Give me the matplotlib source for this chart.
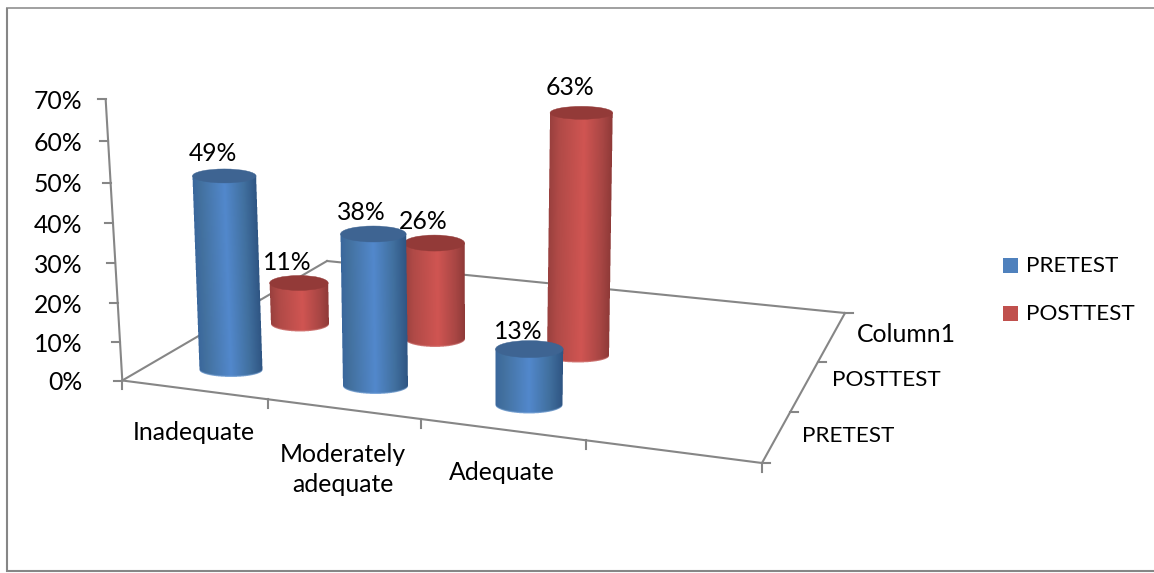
import numpy as np
import matplotlib
matplotlib.use("Agg")
import matplotlib.pyplot as plt
from matplotlib.colors import LinearSegmentedColormap
from matplotlib.patches import Ellipse, Rectangle

# Chart data (percent of respondents)
categories = ["Inadequate", "Moderately\nadequate", "Adequate"]
series_names = ["PRETEST", "POSTTEST"]
depth_labels = ["PRETEST", "POSTTEST", "Column1"]
pretest = [49, 38, 13]
posttest = [11, 26, 63]
value_ticks = [0, 10, 20, 30, 40, 50, 60, 70]

plt.rcParams["font.family"] = ["Lato", "DejaVu Sans"]
FS = 17.8
FS_CAPS = 16.2
GRID = "#868686"

W, H = 1154, 573
fig = plt.figure(figsize=(W / 100, H / 100), dpi=100, facecolor="white")
ax = fig.add_axes([0, 0, 1, 1])
ax.set_xlim(0, W)
ax.set_ylim(H, 0)
ax.axis("off")

# Outer chart frame
ax.plot([6.5, 6.5], [572, 7.5], color=GRID, lw=1.5, solid_capstyle="butt")
ax.plot([6, W], [7.5, 7.5], color=GRID, lw=1.1, solid_capstyle="butt")
ax.plot([6, W], [571, 571], color=GRID, lw=1.5, solid_capstyle="butt")


def wall_y(v):
    # Perspective projection of a value onto the left wall
    return 380.5 - 3.82 * v - 0.0028 * v ** 2


def wall_x(y):
    return 122.3 - (380.5 - y) * 16.6 / 280.5


# Floor outline and the value axis
front_left = (122.3, 380.5)
back_left = (327, 261)
back_right = (845, 313)
front_right = (762, 463)
for a, b in [(front_left, front_right), (front_right, back_right),
             (back_right, back_left), (back_left, front_left)]:
    ax.plot([a[0], b[0]], [a[1], b[1]], color=GRID, lw=1.5, zorder=1)
ax.plot([wall_x(wall_y(0)), wall_x(wall_y(70))], [wall_y(0), wall_y(70)],
        color=GRID, lw=1.5, zorder=1)

for v in value_ticks:
    y = wall_y(v)
    x = wall_x(y)
    ax.plot([x - 8, x], [y, y], color=GRID, lw=1.5, zorder=1)
    ax.text(82.5, y + 2.5, f"{v}%", ha="right", va="center", fontsize=FS, color="black")

# Category ticks on the front floor edge
for x in [122.3, 267.5, 421, 585.5, 762]:
    y = 380.5 + (x - 122.3) * (463 - 380.5) / (762 - 122.3)
    ax.plot([x, x], [y, y + 8.5], color=GRID, lw=1.5, zorder=1)

# Depth ticks on the right floor edge
for t in [0, 1 / 3 + 0.01, 2 / 3 + 0.01, 1]:
    x = 762 + (845 - 762) * t
    y = 463 - (463 - 313) * t
    ax.plot([x, x + 8], [y, y], color=GRID, lw=1.5, zorder=1)

cat_pos = [(194, 433), (343, 469.5), (502, 473)]
for label, (x, y) in zip(categories, cat_pos):
    ax.text(x, y, label, ha="center", va="center", fontsize=FS, color="black",
            linespacing=1.42)
depth_pos = [(848, 435.5), (886, 380.5), (906, 335)]
for label, (x, y), size in zip(depth_labels, depth_pos, [FS_CAPS, FS_CAPS, FS]):
    ax.text(x, y, label, ha="center", va="center", fontsize=size, color="black")

blue_map = LinearSegmentedColormap.from_list(
    "blue", [(0, "#3A679C"), (0.12, "#43719F"), (0.5, "#5288CC"),
             (0.8, "#41709F"), (1, "#2F5583")])
red_map = LinearSegmentedColormap.from_list(
    "red", [(0, "#99403E"), (0.15, "#B04A47"), (0.55, "#D05552"),
            (0.85, "#A84644"), (1, "#8F3A38")])


def cylinder(base_x, base_y, half_w, half_h, value, scale, label_dy, cmap, top_color, rim, z):
    """Draw one shaded cylinder standing on the floor and label its value."""
    top_y = base_y - value * scale
    top_x = base_x + value * (base_x - 480) * 0.00055
    top_w = half_w * 1.01

    # Shaded side surface, supersampled so the outline stays smooth
    ss = 4
    x0 = int(min(base_x - half_w, top_x - top_w)) - 2
    x1 = int(max(base_x + half_w, top_x + top_w)) + 3
    y0 = int(top_y - half_h) - 2
    y1 = int(base_y + half_h) + 3
    px = (np.arange((x1 - x0) * ss) + 0.5) / ss + x0
    py = (np.arange((y1 - y0) * ss) + 0.5) / ss + y0
    gx, gy = np.meshgrid(px, py)
    t = np.clip((base_y - gy) / (base_y - top_y), 0, 1)
    cx = base_x + (top_x - base_x) * t
    hw = half_w + (top_w - half_w) * t
    u = (gx - cx) / hw
    inside = np.abs(u) <= 1
    arc = half_h * np.sqrt(np.clip(1 - u ** 2, 0, 1))
    below = gy <= base_y + arc
    above = gy >= top_y
    mask = (inside & below & above).astype(float)
    rgba = cmap(np.clip((u + 1) / 2, 0, 1))
    # Pale rim along the lower edge
    rim_rgb = np.array(matplotlib.colors.to_rgb(rim))
    rim_band = np.clip((gy - (base_y + arc - 1.6)) / 1.6, 0, 1)[..., None]
    rgba[..., :3] = rgba[..., :3] * (1 - rim_band) + rim_rgb * rim_band
    rgb_alpha = rgba[..., :3] * mask[..., None]
    h, w = mask.shape
    alpha = mask.reshape(h // ss, ss, w // ss, ss).mean(axis=(1, 3))
    rgb_sum = rgb_alpha.reshape(h // ss, ss, w // ss, ss, 3).mean(axis=(1, 3))
    rgb = rgb_sum / np.maximum(alpha, 1e-6)[..., None]
    ax.imshow(np.dstack([np.clip(rgb, 0, 1), alpha]), extent=(x0, x1, y1, y0),
              interpolation="nearest", aspect="auto", zorder=z)
    ax.add_patch(Ellipse((top_x, top_y), 2 * top_w, 2 * half_h, facecolor=top_color,
                         edgecolor=top_color, lw=0.3, zorder=z + 0.2))
    ax.text(top_x - 11.5, top_y + label_dy, f"{value}%", ha="center", va="center",
            fontsize=FS, color="black", zorder=10)


# Floor anchor for every cylinder: centre x, centre y, half axes, px per percent, label lift
pre_layout = [(231, 370, 31.5, 7, 3.96, -22), (375.5, 386, 32.5, 8, 4.0, -22),
              (529, 405, 33.5, 8.5, 4.3, -17.5)]
post_layout = [(300, 324, 29, 7.5, 3.73, -20), (435, 339, 30, 8, 3.69, -22),
               (578, 356, 31, 6.5, 3.86, -25)]

for value, (x, y, hw, hh, s, dy) in zip(posttest, post_layout):
    cylinder(x, y, hw, hh, value, s, dy, red_map, "#933A38", "#D88A88", 3)
for value, (x, y, hw, hh, s, dy) in zip(pretest, pre_layout):
    cylinder(x, y, hw, hh, value, s, dy, blue_map, "#3E6492", "#8FB4E0", 5)
ax.set_xlim(0, W)
ax.set_ylim(H, 0)

# Legend
for name, color, y in zip(series_names, ["#4F81BD", "#C0504D"], [258, 306]):
    ax.add_patch(Rectangle((1003, y), 15, 15, facecolor=color, edgecolor="none"))
    ax.text(1026, y + 8, name, ha="left", va="center", fontsize=FS_CAPS, color="black")

fig.savefig("out.png", dpi=100, facecolor="white")
